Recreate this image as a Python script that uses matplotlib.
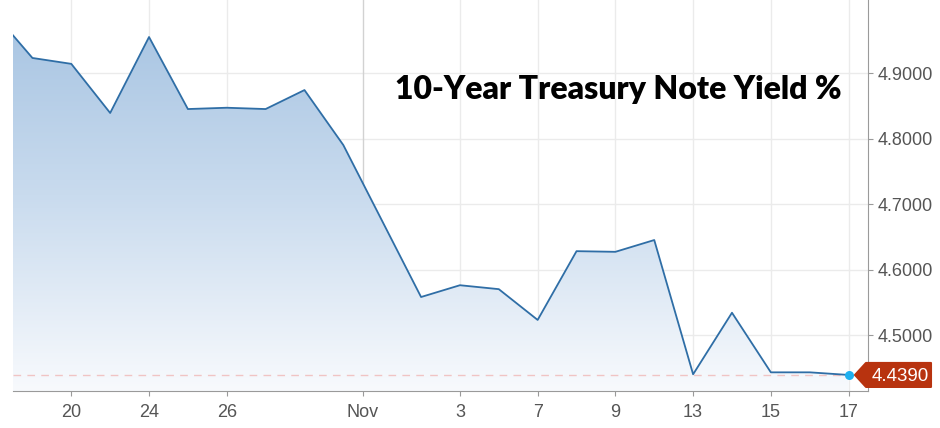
#!/usr/bin/env python3
"""10-Year Treasury note yield, Oct 18 - Nov 17, drawn as a shaded line chart."""
import matplotlib
matplotlib.use("Agg")
import matplotlib.pyplot as plt
import numpy as np
from matplotlib.patches import Polygon
from matplotlib.transforms import IdentityTransform, blended_transform_factory

# ── Data (trading days) ─────────────────────────────────────────────────────
days = ["Oct 18", "Oct 19", "Oct 20", "Oct 23", "Oct 24", "Oct 25", "Oct 26",
        "Oct 27", "Oct 30", "Oct 31", "Nov 1", "Nov 2", "Nov 3", "Nov 6",
        "Nov 7", "Nov 8", "Nov 9", "Nov 10", "Nov 13", "Nov 14", "Nov 15",
        "Nov 16", "Nov 17"]
yields = [4.992, 4.923, 4.914, 4.839, 4.955, 4.845, 4.847, 4.845, 4.874,
          4.790, 4.674, 4.558, 4.576, 4.570, 4.523, 4.628, 4.627, 4.645,
          4.440, 4.534, 4.443, 4.443, 4.439]
tick_days = ["Oct 20", "Oct 24", "Oct 26", "Nov 1", "Nov 3", "Nov 7",
             "Nov 9", "Nov 13", "Nov 15", "Nov 17"]
tick_labels = ["20", "24", "26", "Nov", "3", "7", "9", "13", "15", "17"]
y_ticks = [4.5, 4.6, 4.7, 4.8, 4.9]
TITLE = "10-Year Treasury Note Yield %"

# ── Style ───────────────────────────────────────────────────────────────────
LINE = "#2f6ea6"
GRID = "#ebebeb"
MONTH_GRID = "#d2d2d2"
AXIS = "#9a9a9a"
LABEL = "#555555"
TAG = "#b8330f"
DOT = "#1eb0ef"
plt.rcParams["font.family"] = ["Liberation Sans", "DejaVu Sans"]

x = np.arange(len(days))
last = yields[-1]
# month boundary sits half a trading day before the 1st
tick_pos = [days.index(d) - (0.5 if d.endswith(" 1") else 0) for d in tick_days]

fig = plt.figure(figsize=(9.4, 4.28), dpi=100)
ax = fig.add_axes([13 / 940, 37 / 428, 855 / 940, 391 / 428])
ax.set_xlim(0.5, 22.5)
ax.set_ylim(4.4145, 5.0115)

# grid
for v in y_ticks:
    ax.axhline(v, color=GRID, lw=1, zorder=0)
for p, lab in zip(tick_pos, tick_labels):
    ax.axvline(p, color=MONTH_GRID if lab == "Nov" else GRID, lw=1, zorder=0)

# gradient fill under the line
fill = ax.fill_between(x, yields, 4.4145, color="none", lw=0)
grad = np.linspace(0, 1, 256).reshape(-1, 1)
cmap = matplotlib.colors.LinearSegmentedColormap.from_list(
    "fade", ["#a4c2e1", "#c9dbee", "#f8fafd"])
im = ax.imshow(grad, cmap=cmap, aspect="auto", extent=[0.5, 22.5, 4.4145, 5.0115],
               origin="upper", zorder=1)
im.set_clip_path(fill.get_paths()[0], transform=ax.transData)

ax.plot(x, yields, color=LINE, lw=1.3, zorder=3)
ax.axhline(last, color="#f0c4c4", lw=1, ls=(0, (5.5, 4.5)), zorder=2)
ax.plot(x[-1], last, "o", color=DOT, ms=6.5, mec="none", zorder=4, clip_on=False)

# axes
for s in ("left", "top"):
    ax.spines[s].set_visible(False)
ax.spines["right"].set_color(AXIS)
ax.spines["bottom"].set_color(AXIS)
ax.yaxis.tick_right()
ax.set_yticks(y_ticks)
ax.set_yticklabels([f"{v:.4f}" for v in y_ticks])
ax.set_xticks(tick_pos)
ax.set_xticklabels(tick_labels)
ax.tick_params(axis="both", colors=AXIS, labelcolor=LABEL, labelsize=13, length=3.6)
ax.tick_params(axis="y", pad=3)
ax.tick_params(axis="x", pad=5.5)

# last-value tag with a pointer
fig.canvas.draw()
ax_pt = blended_transform_factory(ax.transAxes, ax.transData).transform((1, last))
ox, oy = ax_pt
tag = Polygon([(ox - 13, oy), (ox - 2, oy + 12), (ox + 63, oy + 12),
               (ox + 63, oy - 12), (ox - 2, oy - 12)],
              closed=True, transform=IdentityTransform(), color=TAG, zorder=5,
              joinstyle="round", lw=1.5)
fig.add_artist(tag)
fig.text((ox + 32) / 940, oy / 428, f"{last:.4f}", color="white", fontsize=13.5,
         ha="center", va="center_baseline", zorder=6)

fig.text(618 / 940, 1 - 90 / 428, TITLE, fontsize=23, fontweight="heavy",
         family=["Lato", "DejaVu Sans"], ha="center", va="center", color="#000000")

fig.savefig("out.png", dpi=100)
